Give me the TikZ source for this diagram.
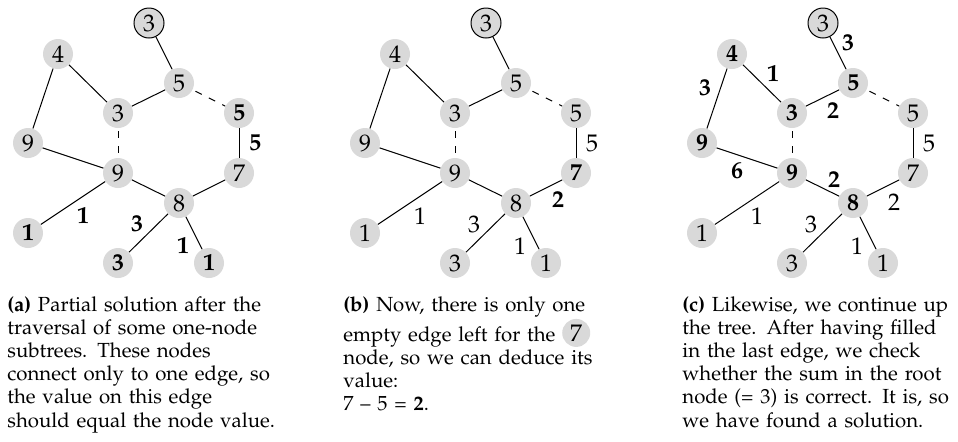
\documentclass[tikz,border=0pt]{standalone}
\usepackage[T1]{fontenc}
\usepackage{mathpazo}
\usepackage{xcolor}
\usepackage{tikz}
\definecolor{nodegray}{HTML}{D9D9D9}
\tikzset{
  vtx/.style={circle,fill=nodegray,minimum size=15pt,inner sep=0pt,font=\fontsize{12}{14}\selectfont},
  rootvtx/.style={vtx,draw=black,line width=0.5pt},
  wt/.style={inner sep=0pt,font=\fontsize{12}{14}\selectfont},
  link/.style={line width=0.5pt},
  openlink/.style={link,dash pattern=on 3.5pt off 4pt,dash phase=-1.5pt},
  capt/.style={anchor=north west,inner sep=0pt,text width=150pt,align=left,font=\fontsize{10.2}{11.6}\selectfont}
}
\newcommand{\vx}[3]{\node[vtx] (#1) at (#2) {#3};}
\newcommand{\links}[1]{%
  \foreach \u/\v in {r/u5,n4/m3,n4/l9,u5/m3,s5/n7,l9/c9,c9/n8,c9/l1,n7/n8,n8/b3,n8/b1}
    \draw[link] (#1\u) -- (#1\v);
  \draw[openlink] (#1u5) -- (#1s5);
  \draw[openlink] (#1m3) -- (#1c9);
}

\begin{document}
\begin{tikzpicture}[x=0.5pt,y=-0.5pt]
\useasboundingbox (0,0) rectangle (958,441);

% (a) leaves first
\begin{scope}
\node[rootvtx] (ar) at (149,23) {3};
\vx{an4}{58,54}{4}
\vx{au5}{179,83}{5}
\vx{am3}{118,113}{3}
\vx{as5}{239,113}{\textbf{5}}
\vx{al9}{28,143}{9}
\vx{ac9}{118,173}{9}
\vx{an7}{239,173}{7}
\vx{an8}{179,203}{8}
\vx{al1}{28,233}{\textbf{1}}
\vx{ab3}{118,263}{\textbf{3}}
\vx{ab1}{209,263}{\textbf{1}}
\links{a}
\node[wt] (aw1) at (255,143) {\textbf{5}};
\node[wt] (aw2) at (83,216) {\textbf{1}};
\node[wt] (aw3) at (137,224) {\textbf{3}};
\node[wt] (aw4) at (183,246) {\textbf{1}};
\node[capt] (acap) at (7,296) {\textbf{(a)} Partial solution after the\\
  traversal of some one-node\\ subtrees. These nodes\\
  connect only to one edge, so\\ the value on this edge\\
  should equal the node value.};
\end{scope}

% (b) the 7 node
\begin{scope}[shift={(337,0)}]
\node[rootvtx] (br) at (149,23) {3};
\vx{bn4}{58,54}{4}
\vx{bu5}{179,83}{5}
\vx{bm3}{118,113}{3}
\vx{bs5}{239,113}{5}
\vx{bl9}{28,143}{9}
\vx{bc9}{118,173}{9}
\vx{bn7}{239,173}{\textbf{7}}
\vx{bn8}{179,203}{8}
\vx{bl1}{28,233}{1}
\vx{bb3}{118,263}{3}
\vx{bb1}{209,263}{1}
\links{b}
\node[wt] (bw1) at (255,143) {5};
\node[wt] (bw2) at (83,216) {1};
\node[wt] (bw3) at (137,224) {3};
\node[wt] (bw4) at (183,246) {1};
\node[wt] (bw5) at (221,200) {\textbf{2}};
\node[capt] (bcap) at (6,296) {\textbf{(b)} Now, there is only one\\
  empty edge left for the \tikz[baseline=(t.base)]\node[vtx,minimum size=14pt] (t) {7};\\
  node, so we can deduce its\\ value:\\ 7~--~5~=~\textbf{2}.};
\end{scope}

% (c) up to the root
\begin{scope}[shift={(674,0)}]
\node[rootvtx] (cr) at (149,23) {3};
\vx{cn4}{58,54}{\textbf{4}}
\vx{cu5}{179,83}{\textbf{5}}
\vx{cm3}{118,113}{\textbf{3}}
\vx{cs5}{239,113}{5}
\vx{cl9}{28,143}{\textbf{9}}
\vx{cc9}{118,173}{\textbf{9}}
\vx{cn7}{239,173}{7}
\vx{cn8}{179,203}{\textbf{8}}
\vx{cl1}{28,233}{1}
\vx{cb3}{118,263}{3}
\vx{cb1}{209,263}{1}
\links{c}
\node[wt] (cw1) at (255,143) {5};
\node[wt] (cw2) at (83,216) {1};
\node[wt] (cw3) at (137,224) {3};
\node[wt] (cw4) at (183,246) {1};
\node[wt] (cw5) at (220,202) {2};
\node[wt] (cw6) at (174,43) {\textbf{3}};
\node[wt] (cw7) at (99,74) {\textbf{1}};
\node[wt] (cw8) at (31,88) {\textbf{3}};
\node[wt] (cw9) at (159,111) {\textbf{2}};
\node[wt] (cw10) at (63,171) {\textbf{6}};
\node[wt] (cw11) at (160,180) {\textbf{2}};
\node[capt] (ccap) at (8,296) {\textbf{(c)} Likewise, we continue up\\
  the tree. After having filled\\ in the last edge, we check\\
  whether the sum in the root\\ node (= 3) is correct. It is, so\\
  we have found a solution.};
\end{scope}
\end{tikzpicture}
\end{document}
